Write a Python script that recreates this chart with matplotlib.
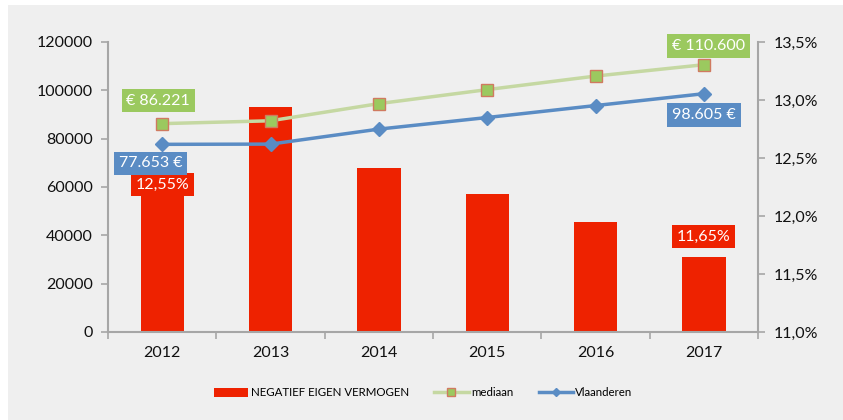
import matplotlib
matplotlib.use("Agg")
import matplotlib.pyplot as plt
from matplotlib.patches import Patch, Rectangle
from matplotlib.lines import Line2D
from matplotlib.ticker import FuncFormatter

years = ["2012", "2013", "2014", "2015", "2016", "2017"]
neg_eigen_vermogen = [12.41, 12.94, 12.41, 12.19, 11.95, 11.65]  # % (right axis)
mediaan = [86221, 87400, 94500, 100300, 105900, 110600]
vlaanderen = [77653, 77750, 83950, 88750, 93700, 98605]
left_ticks = [0, 20000, 40000, 60000, 80000, 100000, 120000]
right_ticks = [11.0, 11.5, 12.0, 12.5, 13.0, 13.5]

RED = "#ee2200"
GREEN_LINE = "#c5d8a2"
GREEN_BOX = "#9bc95f"
MARK_EDGE = "#d07a60"
BLUE = "#5a8cc4"
AXC = "#a6a6a6"
BG = "#efefef"

plt.rcParams['font.family'] = ['Lato', 'DejaVu Sans']

fig = plt.figure(figsize=(8.43, 4.2), dpi=100)
fig.patch.set_facecolor("white")
fig.add_artist(Rectangle((8 / 843, 0), 1 - 8 / 843, 1 - 5 / 420,
                         transform=fig.transFigure, facecolor=BG,
                         edgecolor="none", zorder=-10))

ax = fig.add_axes([108 / 843, 1 - 332 / 420, 650 / 843, 290 / 420])
ax.set_facecolor("none")
x = list(range(len(years)))
ax.bar(x, neg_eigen_vermogen, width=0.4, color=RED, bottom=0, zorder=2)
ax2 = ax.twinx()

ax.set_ylim(11.0, 13.5)
ax.set_xlim(-0.5, 5.5)
ax.yaxis.tick_right()
ax.yaxis.set_label_position("right")
ax.set_yticks(right_ticks)
ax.yaxis.set_major_formatter(FuncFormatter(lambda v, p: f"{v:.1f}%".replace(".", ",")))
ax.set_xticks(x)
ax.set_xticklabels(years)
ax.set_xticks([i - 0.5 for i in range(len(years) + 1)], minor=True)
ax.tick_params(axis="x", which="major", length=0, pad=10, labelsize=11.5, colors="#111111")
ax.tick_params(axis="x", which="minor", length=5, color=AXC, width=1.2)
ax.tick_params(axis="y", length=5, color=AXC, width=1.2, labelsize=11.5,
               labelcolor="#111111", pad=6)
for s in ["top", "left"]:
    ax.spines[s].set_visible(False)
for s in ["bottom", "right"]:
    ax.spines[s].set_visible(True)
    ax.spines[s].set_color(AXC)
    ax.spines[s].set_linewidth(1.5)

ax2.set_ylim(0, 120000)
ax2.yaxis.tick_left()
ax2.yaxis.set_label_position("left")
ax2.set_yticks(left_ticks)
ax2.tick_params(axis="y", length=5, color=AXC, width=1.2, labelsize=11.5,
                labelcolor="#111111", pad=6)
for s in ["top", "right", "bottom"]:
    ax2.spines[s].set_visible(False)
ax2.spines["left"].set_visible(True)
ax2.spines["left"].set_color(AXC)
ax2.spines["left"].set_linewidth(1.5)

ax2.plot(x, mediaan, color=GREEN_LINE, lw=2.5, marker="s", ms=9,
         mfc=GREEN_BOX, mec=MARK_EDGE, mew=1.0, zorder=3)
ax2.plot(x, vlaanderen, color=BLUE, lw=2.5, marker="D", ms=7,
         mfc=BLUE, mec=BLUE, zorder=3)

def px(v):
    return v * 0.72

def lab(axis, xv, yv, text, dx, dy, fc, z=5):
    axis.annotate(text, xy=(xv, yv), xytext=(px(dx), px(dy)),
                  textcoords="offset points", ha="center", va="center",
                  color="white", fontsize=11.5,
                  bbox=dict(boxstyle="square,pad=0.3", fc=fc, ec="none"),
                  zorder=z, annotation_clip=False)

lab(ax, 0, neg_eigen_vermogen[0], "12,55%", 0, -16, RED)
lab(ax, 5, neg_eigen_vermogen[5], "11,65%", 0, 20, RED)
lab(ax2, 0, mediaan[0], "€ 86.221", -4, 23, GREEN_BOX)
lab(ax2, 0, vlaanderen[0], "77.653 €", -11.5, -19, BLUE, z=6)
lab(ax2, 5, mediaan[5], "€ 110.600", 4.5, 19, GREEN_BOX)
lab(ax2, 5, vlaanderen[5], "98.605 €", 0, -21.5, BLUE)

handles = [
    Patch(facecolor=RED, edgecolor="none"),
    Line2D([], [], color=GREEN_LINE, lw=2.5, marker="s", ms=6, mfc=GREEN_BOX, mec=MARK_EDGE),
    Line2D([], [], color=BLUE, lw=2.5, marker="D", ms=4, mfc=BLUE, mec=BLUE),
]
fig.legend(handles, ["NEGATIEF EIGEN VERMOGEN", "mediaan", "Vlaanderen"],
           loc="center", bbox_to_anchor=(0.502, 1 - 393 / 420), ncol=3,
           frameon=False, fontsize=8.3, handlelength=3.0, handletextpad=0.2,
           columnspacing=2.2)

fig.savefig("out.png", dpi=100, facecolor=fig.get_facecolor())
